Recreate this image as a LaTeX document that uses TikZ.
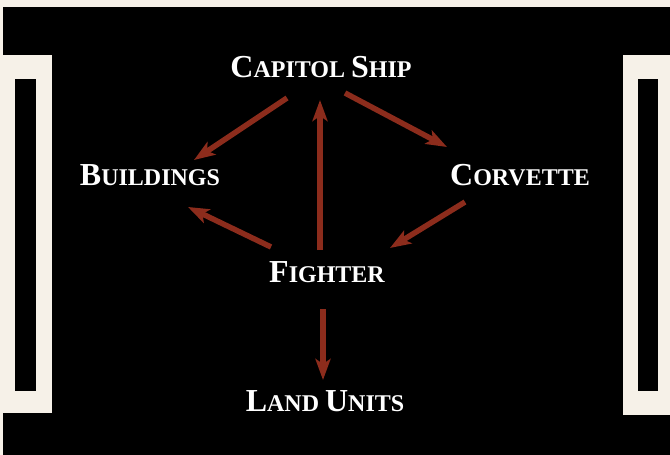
\documentclass[tikz,border=0pt]{standalone}
\usepackage{fontspec}
\setmainfont{Liberation Serif}
\usetikzlibrary{arrows.meta,calc}
\definecolor{cream}{RGB}{246,241,232}
\definecolor{arrowred}{RGB}{140,44,28}
\newcommand\fsc[2]{{\fontsize{32}{32}\selectfont #1}{\fontsize{24}{24}\selectfont #2}}
\begin{document}
\begin{tikzpicture}[x=1pt,y=-1pt,
  label/.style={text=white,font=\bfseries,inner sep=0pt,anchor=base},
  arr/.style={draw=arrowred,line width=5.5pt,-{Stealth[length=21pt,width=15pt,inset=5pt]}}]
\useasboundingbox (0,0) rectangle (670,455);
% background
\fill[cream] (0,0) rectangle (670,455);
\fill[black] (3,7) rectangle (670,455);
\fill[cream] (0,55) rectangle (52,413);
\fill[black] (15,79) rectangle (36,391);
\fill[cream] (623,55) rectangle (670,415);
\fill[black] (638,79) rectangle (658,391);
% nodes
\node[label] (cap) at (321,77) {\fsc{C}{APITOL }\fsc{S}{HIP}};
\node[label] (bld) at (150,185) {\fsc{B}{UILDINGS}};
\node[label] (cor) at (520,185) {\fsc{C}{ORVETTE}};
\node[label] (fig) at (327,282) {\fsc{F}{IGHTER}};
\node[label] (land) at (325,411) {\fsc{L}{AND }\fsc{U}{NITS}};
% connectors
\draw[arr] ($(cap.base)+(-34,21)$) -- ($(bld.base)+(44,-25)$);
\draw[arr] ($(cap.base)+(24,16)$) -- ($(cor.base)+(-73,-38)$);
\draw[arr] ($(fig.base)+(-7,-32)$) -- ($(cap.base)+(-1,23)$);
\draw[arr] ($(cor.base)+(-55,17)$) -- ($(fig.base)+(63,-34)$);
\draw[arr] ($(fig.base)+(-56,-35)$) -- ($(bld.base)+(38,22)$);
\draw[arr] ($(fig.base)+(-4,27)$) -- ($(land.base)+(-2,-31)$);
\end{tikzpicture}
\end{document}
